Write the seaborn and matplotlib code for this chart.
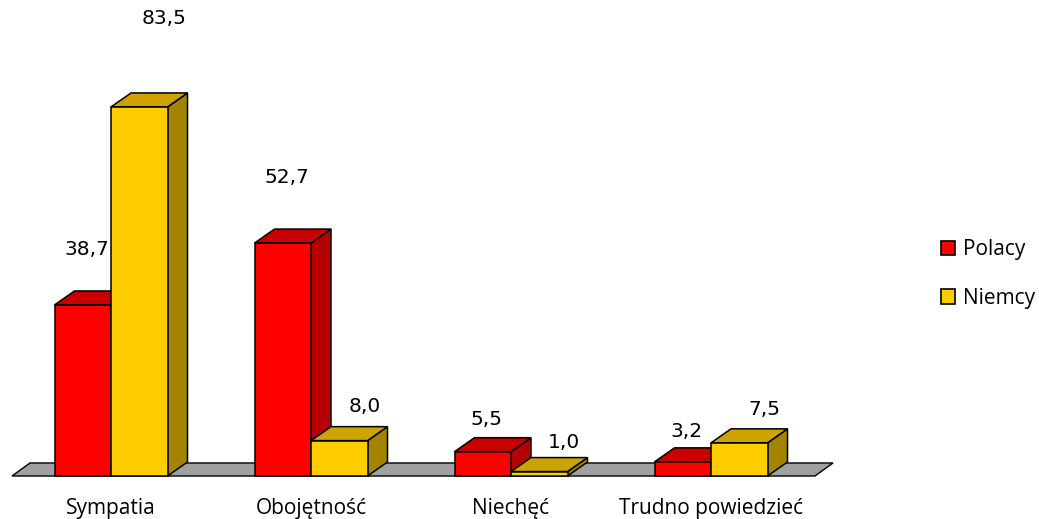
import numpy as np
import pandas as pd
import seaborn as sns
import matplotlib
matplotlib.use("Agg")
import matplotlib.pyplot as plt
from matplotlib.patches import Polygon, Patch, Rectangle

# Survey answers (percent) for Poles and Germans
categories = ["Sympatia", "Obojętność", "Niechęć", "Trudno powiedzieć"]
series = ["Polacy", "Niemcy"]
polacy = [38.7, 52.7, 5.5, 3.2]
niemcy = [83.5, 8.0, 1.0, 7.5]

df = pd.DataFrame({
    "kategoria": categories * 2,
    "grupa": [series[0]] * len(categories) + [series[1]] * len(categories),
    "odsetek": polacy + niemcy,
})

front = {"Polacy": "#FF0000", "Niemcy": "#FFCC00"}
top_col = {"Polacy": "#C80000", "Niemcy": "#CCA300"}
side_col = {"Polacy": "#B40000", "Niemcy": "#A38300"}

sns.set_theme(style="white")
plt.rcParams["font.family"] = ["Open Sans", "DejaVu Sans"]
plt.rcParams["text.color"] = "black"
plt.rcParams["xtick.color"] = "black"

fig = plt.figure(figsize=(10.39, 5.19), dpi=100)
ax = fig.add_axes([0, 43 / 519, 1, 476 / 519])
sns.barplot(data=df, x="kategoria", y="odsetek", hue="grupa", hue_order=series,
            palette=front, saturation=1, width=0.565, edgecolor="black",
            linewidth=1.1, legend=False, ax=ax)

ax.set_xlim(-0.555, 4.64)
ax.set_ylim(0, 107.7)
for s in ax.spines.values():
    s.set_visible(False)
ax.set_yticks([])
ax.set_xlabel("")
ax.set_ylabel("")
ax.tick_params(axis="x", length=0, pad=16, labelsize=15, labelcolor="black")

# depth of the pseudo-3D extrusion, given in pixels and converted to data units
p0 = ax.transData.transform((0, 0))
p1 = ax.transData.transform((1, 1))
px_x, px_y = p1[0] - p0[0], p1[1] - p0[1]
dx, dy = 20 / px_x, 14 / px_y

# grey floor under the bars
fx0, fx1 = -0.495, 3.52
floor = Polygon([(fx0, 0), (fx1, 0), (fx1 + dx * 0.9, dy * 0.93), (fx0 + dx * 0.9, dy * 0.93)],
                closed=True, facecolor="#A0A0A0", edgecolor="black", linewidth=1.0,
                zorder=1, clip_on=False)
ax.add_patch(floor)

bars = [p for p in ax.patches if isinstance(p, Rectangle)]
n = len(categories)
for i, bar in enumerate(bars):
    grp = series[i // n]
    level = i // n
    x0, w, h = bar.get_x(), bar.get_width(), bar.get_height()
    z = 2 + level * 2
    side = Polygon([(x0 + w, 0), (x0 + w, h), (x0 + w + dx, h + dy), (x0 + w + dx, dy)],
                   closed=True, facecolor=side_col[grp], edgecolor="black",
                   linewidth=1.1, zorder=z, clip_on=False)
    top = Polygon([(x0, h), (x0 + w, h), (x0 + w + dx, h + dy), (x0 + dx, h + dy)],
                  closed=True, facecolor=top_col[grp], edgecolor="black",
                  linewidth=1.1, zorder=z, clip_on=False)
    ax.add_patch(side)
    ax.add_patch(top)
    bar.set_zorder(z + 0.5)
    bar.set_clip_on(False)

    # value label above the bar
    shift_px = 4 if level == 0 else 25
    lift_px = 28 + 0.72 * h
    ax.annotate(f"{h:.1f}".replace(".", ","), xy=(x0 + w / 2, h),
                xytext=(shift_px * 0.72, lift_px * 0.72), textcoords="offset points",
                ha="center", va="center", fontsize=14.5, family="DejaVu Sans",
                color="black", zorder=10)

handles = [Patch(facecolor=front[s], edgecolor="black", linewidth=1.2, label=s) for s in series]
fig.legend(handles=handles, loc="center left", bbox_to_anchor=(922 / 1039, 1 - 274 / 519),
           frameon=False, handlelength=0.7, handleheight=0.7, handletextpad=0.35,
           labelspacing=1.3, fontsize=15, labelcolor="black")

fig.savefig("out.png", dpi=100)
